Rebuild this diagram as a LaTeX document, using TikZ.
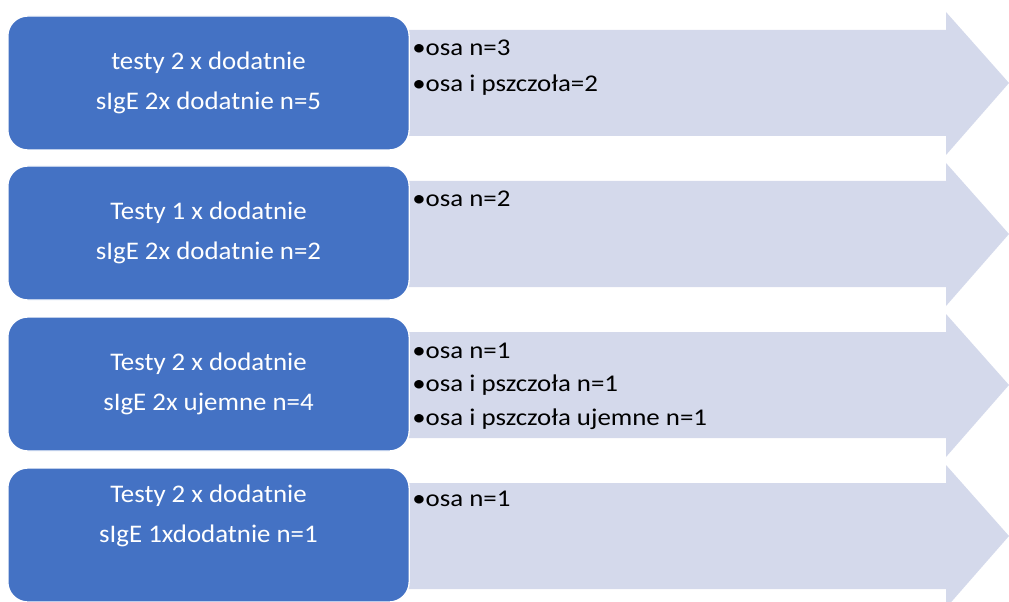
\documentclass[tikz,border=0pt]{standalone}
\usepackage{fontspec}
\setmainfont[FakeStretch=1.06]{Carlito}
\newfontfamily\listfont[FakeStretch=1.12]{Carlito}
\definecolor{boxblue}{RGB}{68,114,196}
\definecolor{arrowfill}{RGB}{212,217,235}
\tikzset{
  bluebox/.style={draw=white, line width=1pt, fill=boxblue, rounded corners=15pt,
    minimum width=301pt, minimum height=100.5pt, inner sep=0pt,
    text=white, align=center, font=\fontsize{19}{30.5}\selectfont},
  listtext/.style={anchor=base west, inner sep=0pt, text=black, font=\listfont\fontsize{18}{21}\selectfont},
}
\begin{document}
\begin{tikzpicture}[x=0.75pt,y=-0.75pt]
\useasboundingbox (0,0) rectangle (1009,602);
% arrows behind
\fill[arrowfill] (390,30) -- (946,30) -- (946,12) -- (1009,83) -- (946,155) -- (946,136) -- (390,136) -- cycle;
\fill[arrowfill] (390,181) -- (946,181) -- (946,163) -- (1009,234) -- (946,306) -- (946,287) -- (390,287) -- cycle;
\fill[arrowfill] (390,332) -- (946,332) -- (946,314) -- (1009,385) -- (946,457) -- (946,438) -- (390,438) -- cycle;
\fill[arrowfill] (390,483) -- (946,483) -- (946,465) -- (1009,536) -- (946,608) -- (946,589) -- (390,589) -- cycle;
% boxes
\node[bluebox] (b1) at (208.5,83) {testy 2 x dodatnie\\sIgE 2x dodatnie n=5};
\node[bluebox] (b2) at (208.5,233) {Testy 1 x dodatnie\\sIgE 2x dodatnie n=2};
\node[bluebox] (b3) at (208.5,384) {Testy 2 x dodatnie\\sIgE 2x ujemne n=4};
\node[bluebox] (b4) at (208.5,535) {Testy 2 x dodatnie\\sIgE 1xdodatnie n=1\\[-7.5pt]\strut};
% lists
\node[listtext] (l1a) at (412,55.7) {•osa n=3};
\node[listtext] (l1b) at (412,91.7) {•osa i pszczoła=2};
\node[listtext] (l2a) at (412,206.7) {•osa n=2};
\node[listtext] (l3a) at (412,358) {•osa n=1};
\node[listtext] (l3b) at (412,391.7) {•osa i pszczoła n=1};
\node[listtext] (l3c) at (412,425) {•osa i pszczoła ujemne n=1};
\node[listtext] (l4a) at (412,506.7) {•osa n=1};
\end{tikzpicture}
\end{document}
